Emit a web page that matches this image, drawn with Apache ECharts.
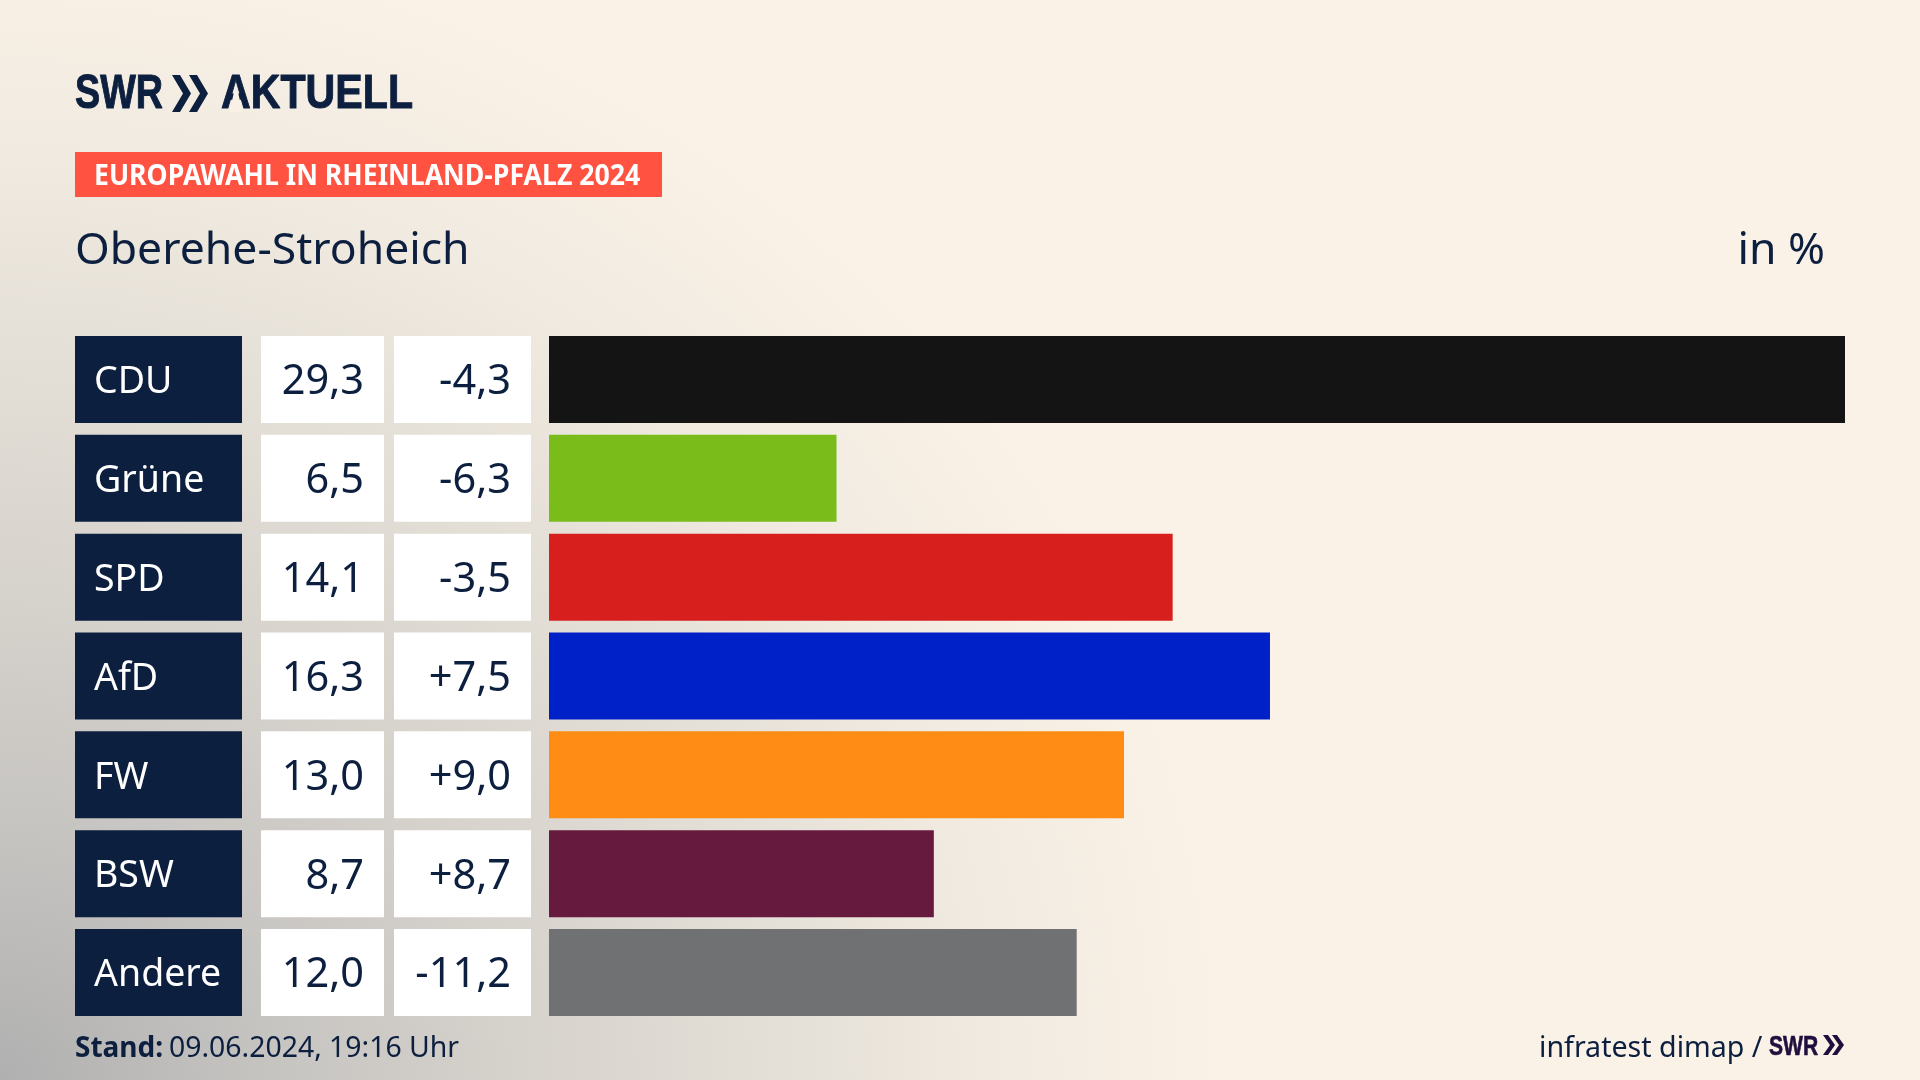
<!DOCTYPE html>
<html>
<head>
<meta charset="utf-8">
<title>Europawahl Oberehe-Stroheich</title>
<script src="https://cdn.jsdelivr.net/npm/echarts@6/dist/echarts.min.js"></script>
<style>
html,body{margin:0;padding:0;}
#main{
	width:1920px;height:1080px;
	background:radial-gradient(ellipse 1230px 1150px at 0 1080px, #b0b0b0 0%, #c6c4c1 22%, #d6d2cc 42%, #e2ddd5 60%, #f0eae0 80%, #fbf2e7 100%);
}
</style>
</head>
<body>
<div id="main"></div>
<script>
var parties = ['CDU','Grüne','SPD','AfD','FW','BSW','Andere'];
var shares = [29.3,6.5,14.1,16.3,13.0,8.7,12.0];
var changes = [-4.3,-6.3,-3.5,7.5,9.0,8.7,-11.2];
// bar lengths as drawn, the last bar is a bit shorter than its label says
var barLengths = [29.3,6.5,14.1,16.3,13.0,8.7,11.93];
var barColors = ['#141414','#7abd1a','#d7201e','#0021c7','#ff8c14','#661a3d','#707172'];
var cellFill = [1,1,1,1,1,1,1];

var navy = '#0c1f3f';
var purple = '#1f0f3f';
var font = '"Noto Sans"';
var logoFont = '"Liberation Sans"';

function deNumber(v){
	return v.toFixed(1).replace('.',',');
}
function signed(v){
	return (v>0?'+':'')+deNumber(v);
}

// columns: party name, share, change, bars
var columns = [
	{left:75,width:167},
	{left:261,width:123},
	{left:394,width:137},
	{left:549,width:1296}
];
var grids=[],xAxes=[],yAxes=[];
for(var i=0;i<columns.length;i++){
	grids.push({left:columns[i].left,width:columns[i].width,top:330,height:692});
	xAxes.push({type:'value',gridIndex:i,min:0,max:i==3?29.3:1,show:false});
	yAxes.push({type:'category',gridIndex:i,data:parties,inverse:true,show:false});
}

function cell(idx,bg,fg,pos,size,dist,texts){
	return {
		type:'bar',
		xAxisIndex:idx,
		yAxisIndex:idx,
		data:cellFill,
		barWidth:87,
		silent:true,
		itemStyle:{color:bg},
		label:{
			show:true,
			position:pos,
			distance:dist,
			offset:[0,3],
			color:fg,
			fontFamily:font,
			fontSize:size,
			formatter:function(p){return texts[p.dataIndex];}
		}
	};
}

function chevron(x,top,w,h,t,color){
	return {type:'polygon',shape:{points:[[x,top],[x+t,top],[x+w,top+h/2],[x+t,top+h],[x,top+h],[x+w-t,top+h/2]]},style:{fill:color}};
}

var option = {
	animation:false,
	grid:grids,
	xAxis:xAxes,
	yAxis:yAxes,
	series:[
		cell(0,navy,'#ffffff','insideLeft',37.5,19,parties),
		cell(1,'#ffffff',navy,'insideRight',41.5,20,shares.map(deNumber)),
		cell(2,'#ffffff',navy,'insideRight',41.5,20,changes.map(signed)),
		{
			type:'bar',
			xAxisIndex:3,
			yAxisIndex:3,
			barWidth:87,
			silent:true,
			data:barLengths.map(function(v,i){
				return {value:v,itemStyle:{color:barColors[i]}};
			})
		}
	],
	graphic:[
		// logo
		{type:'text',x:75,y:70,scaleX:0.77,style:{text:'SWR',fill:navy,stroke:navy,lineWidth:1,font:'bold 49px '+logoFont}},
		chevron(172,75,19,37,8,navy),
		chevron(189,75,19,37,8,navy),
		{type:'text',x:221,y:70,scaleX:0.84,style:{text:'AKTUELL',fill:navy,stroke:navy,lineWidth:1,font:'bold 49px '+logoFont}},
		{type:'polygon',shape:{points:[[234,92],[238,92],[242.5,112],[229.5,112]]},style:{fill:'#f9f0e6'}},
		// badge
		{type:'rect',shape:{x:75,y:152,width:587,height:45},style:{fill:'#ff5240'}},
		{type:'text',x:94,y:162,scaleX:0.92,style:{text:'EUROPAWAHL IN RHEINLAND-PFALZ 2024',fill:'#ffffff',font:'bold 29px '+font}},
		// heading
		{type:'text',x:75,y:229,style:{text:'Oberehe-Stroheich',fill:navy,font:'44.5px '+font}},
		{type:'text',right:95,top:229,style:{text:'in %',fill:navy,font:'44.5px '+font}},
		// footer
		{type:'text',x:75,y:1035,style:{text:'Stand:',fill:navy,font:'bold 28px '+font}},
		{type:'text',x:169,y:1035,style:{text:'09.06.2024, 19:16 Uhr',fill:navy,font:'28.4px '+font}},
		{type:'text',x:1539,y:1034,style:{text:'infratest dimap /',fill:navy,font:'28.6px '+font}},
		{type:'text',x:1769,y:1034,scaleX:0.78,style:{text:'SWR',fill:purple,stroke:purple,lineWidth:0.6,font:'bold 27px '+logoFont}},
		chevron(1823,1035,12,20,5,purple),
		chevron(1832,1035,12,20,5,purple)
	]
};

var myChart = echarts.init(document.getElementById('main'),null,{renderer:'canvas'});
myChart.setOption(option);
</script>
</body>
</html>
